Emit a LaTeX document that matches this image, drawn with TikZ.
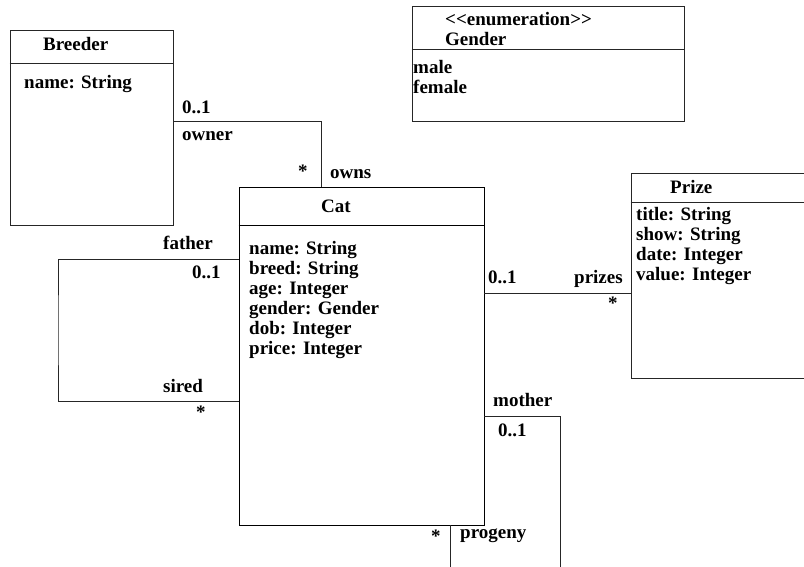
\documentclass[tikz,border=0pt]{standalone}
\usepackage{fontspec}
\setmainfont{Liberation Serif}
\usetikzlibrary{positioning}
\tikzset{
  cls/.style={draw=black!85,line width=.8pt,rectangle,inner sep=0pt},
  assoc/.style={draw=black!85,line width=.8pt},
  lbl/.style={inner sep=0pt,anchor=base west},
}
\begin{document}
\begin{tikzpicture}[x=1pt,y=-1pt,font=\fontsize{19}{20}\selectfont\bfseries]
\useasboundingbox (0,0) rectangle (804,566);
% classes
\node[cls,minimum width=163,minimum height=195] (breeder) at (91.5,127.5) {};
\node[cls,minimum width=272,minimum height=115] (gender) at (548,63.5) {};
\node[cls,draw=black,minimum width=245,minimum height=338] (cat) at (361.5,356) {};
\node[cls,minimum width=200,minimum height=205] (prize) at (731,275.5) {};
\draw[assoc] (breeder.west |- 0,63) -- (breeder.east |- 0,63)
  (gender.west |- 0,49) -- (gender.east |- 0,49)
  (prize.west |- 0,202) -- (prize.east |- 0,202);
\draw[assoc,draw=black] (cat.west |- 0,225) -- (cat.east |- 0,225);
% class texts
\node[lbl] (breedertitle) at (43,50) {Breeder};
\node[lbl] (breedername) at (24,88) {name: String};
\node[lbl] (gendertype) at (445,25) {<{}<enumeration>{}>};
\node[lbl] (gendertitle) at (445,45) {Gender};
\node[lbl] (gendermale) at (413,73) {male};
\node[lbl] (genderfemale) at (413,93) {female};
\node[lbl] (cattitle) at (321,212) {Cat};
\foreach \t [count=\i] in {name: String,breed: String,age: Integer,gender: Gender,dob: Integer,price: Integer}
  \node[lbl] (catattr\i) at (249,234+20*\i) {\t};
\node[lbl] (prizetitle) at (670,193) {Prize};
\foreach \t [count=\i] in {title: String,show: String,date: Integer,value: Integer}
  \node[lbl] (prizeattr\i) at (636,200+20*\i) {\t};
% associations
\coordinate (motherend) at (560,580);
\coordinate (progenyend) at (450,580);
\draw[assoc] (breeder.east |- 0,121) -| (cat.north -| 321,0);
\draw[assoc] (cat.west |- 0,259) -| (58,330) |- (cat.west |- 0,401);
\draw[assoc] (cat.east |- 0,293) -- (prize.west |- 0,293);
\draw[assoc] (cat.east |- 0,416) -| (motherend);
\draw[assoc] (cat.south -| progenyend) -- (progenyend);
% role names and multiplicities
\foreach \n/\x/\y/\t in {ownermult/182/113/0..1,ownerrole/182/140/owner,ownsmult/298/177/*,ownsrole/330/178/owns,
  fatherrole/163/249/father,fathermult/192/278/0..1,siredrole/163/392/sired,siredmult/196/418/*,
  catprizemult/488/283/0..1,prizesrole/574/283/prizes,prizesmult/608/309/*,
  motherrole/493/406/mother,mothermult/498/436/0..1,progenymult/431/542/*,progenyrole/460/538/progeny}
  \node[lbl] (\n) at (\x,\y) {\t};
\end{tikzpicture}
\end{document}
